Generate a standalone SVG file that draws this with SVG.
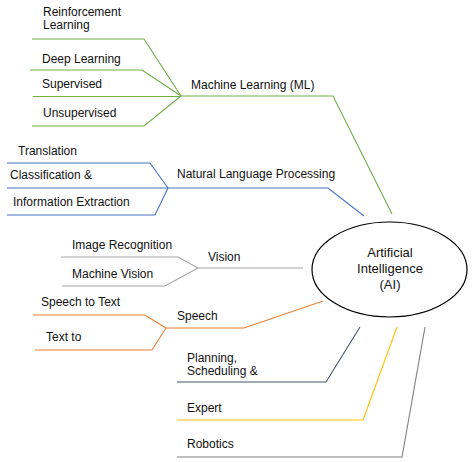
<svg xmlns="http://www.w3.org/2000/svg" width="472" height="462" viewBox="0 0 472 462">
<style>
text{font-family:"Liberation Sans",Arial,sans-serif;font-size:12px;fill:#111}
.c{fill:none;stroke-width:1.1;stroke-linejoin:miter}
.g{stroke:#70ad47}.b{stroke:#4472c4}.v{stroke:#a5a5a5}.o{stroke:#ed7d31}.p{stroke:#44546a}.y{stroke:#ffc000}.r{stroke:#7f7f7f}
.ai{font-size:13px;text-anchor:middle}
</style>
<rect width="472" height="462" fill="#fff"/>
<g id="connectors">
<polyline class="c g" points="32,39 144,39 181,96"/>
<polyline class="c g" points="30,70 142,70 181,96"/>
<polyline class="c g" points="33,96.5 181,96.5"/>
<polyline class="c g" points="32,126 144,126 181,96"/>
<polyline class="c g" points="181,96 333,96 392,214"/>
<polyline class="c b" points="7,163 150,163 168,188"/>
<polyline class="c b" points="7,188 168,188"/>
<polyline class="c b" points="7,215 155,215 168,188"/>
<polyline class="c b" points="168,188 328,188 364,216"/>
<polyline class="c v" points="61,257 178,257 198,268"/>
<polyline class="c v" points="62,286 165,286 198,268"/>
<polyline class="c v" points="198,268 303,268"/>
<polyline class="c o" points="33,315 145,315 166,328"/>
<polyline class="c o" points="35,350 152,350 166,328"/>
<polyline class="c o" points="166,328 244,328 323,301"/>
<polyline class="c p" points="177,382 326,382 360,327"/>
<polyline class="c y" points="177,420 363,420 397,327"/>
<polyline class="c r" points="177,457 402,457 425,327"/>
</g>
<g id="ai">
<ellipse cx="389.5" cy="269.5" rx="77.5" ry="47.5" fill="#fff" stroke="#000" stroke-width="1.2"/>
<text class="ai" x="390" y="257">Artificial</text>
<text class="ai" x="390" y="273">Intelligence</text>
<text class="ai" x="390" y="289">(AI)</text>
</g>
<g id="ml"><text x="191" y="89">Machine Learning (ML)</text></g>
<g id="rl"><text x="43" y="16">Reinforcement</text><text x="43" y="29">Learning</text></g>
<g id="dl"><text x="42" y="62.5">Deep Learning</text></g>
<g id="sup"><text x="42" y="88">Supervised</text></g>
<g id="unsup"><text x="43" y="117">Unsupervised</text></g>
<g id="nlp"><text x="177" y="178">Natural Language Processing</text></g>
<g id="trans"><text x="18" y="155">Translation</text></g>
<g id="class"><text x="10" y="179">Classification &amp;</text></g>
<g id="ie"><text x="13" y="206">Information Extraction</text></g>
<g id="vision"><text x="208" y="261">Vision</text></g>
<g id="imgrec"><text x="72" y="249">Image Recognition</text></g>
<g id="mv"><text x="72" y="278">Machine Vision</text></g>
<g id="speech"><text x="177" y="320">Speech</text></g>
<g id="stt"><text x="41" y="306">Speech to Text</text></g>
<g id="tt"><text x="46" y="341">Text to</text></g>
<g id="plan"><text x="187" y="362">Planning,</text><text x="187" y="375">Scheduling &amp;</text></g>
<g id="expert"><text x="187" y="412">Expert</text></g>
<g id="robotics"><text x="187" y="448">Robotics</text></g>
</svg>
